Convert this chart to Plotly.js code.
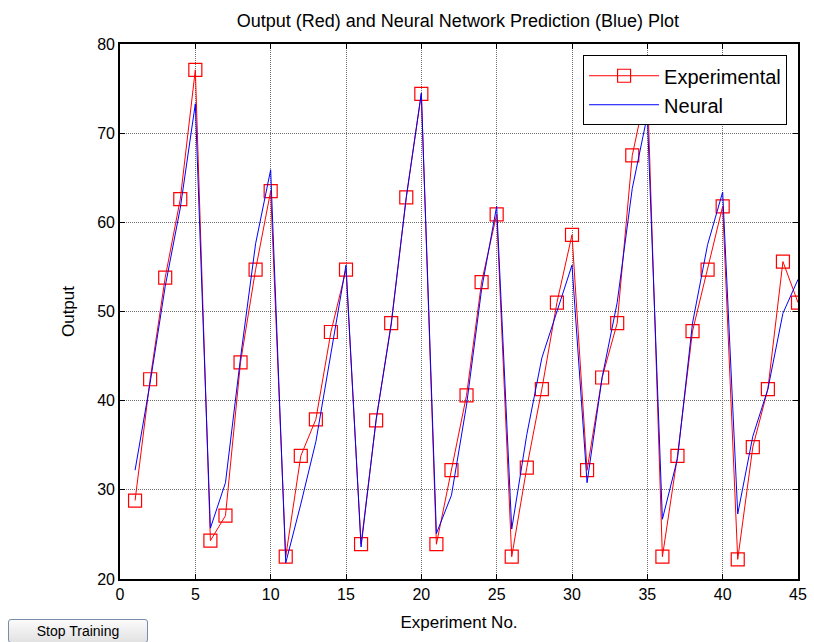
<!DOCTYPE html>
<html>
<head>
<meta charset="utf-8">
<script src="https://cdn.plot.ly/plotly-3.0.1.min.js"></script>
<style>
html,body{margin:0;padding:0;background:#fff;}
#wrap{position:relative;width:814px;height:642px;overflow:hidden;}
#chart{width:814px;height:642px;}
#btn{position:absolute;left:8px;top:619px;width:140px;height:24px;font-family:"Liberation Sans",Arial,sans-serif;font-size:14px;color:#000;
background:linear-gradient(#fbfbfb,#e2e2e2);border:1px solid #7a8da8;border-radius:3px;padding:0;box-sizing:border-box;}
</style>
</head>
<body>
<div id="wrap">
<div id="chart"></div>
<button id="btn">Stop Training</button>
</div>
<script>
const experimentNo = Array.from({length:45},(_,i)=>i+1);
const experimental = [28.8, 42.4, 53.8, 62.6, 77.1, 24.3, 27.1, 44.3, 54.7, 63.5,
  22.5, 33.8, 37.9, 47.7, 54.7, 23.9, 37.8, 48.7, 62.8, 74.4,
  23.9, 32.2, 40.6, 53.3, 60.9, 22.5, 32.5, 41.3, 51.0, 58.6,
  32.2, 42.6, 48.7, 67.5, 75.5, 22.5, 33.8, 47.8, 54.7, 61.8,
  22.2, 34.8, 41.3, 55.6, 51.0];
const neural = [32.2, 42.0, 52.8, 61.6, 73.3, 25.7, 30.8, 44.8, 57.6, 65.9,
  21.8, 28.4, 35.4, 45.5, 55.2, 23.6, 37.9, 48.5, 62.8, 74.5,
  25.1, 29.4, 39.5, 52.5, 61.8, 25.6, 36.2, 44.8, 50.0, 55.2,
  30.8, 42.6, 51.0, 63.8, 72.0, 26.7, 33.5, 48.7, 57.5, 63.4,
  27.3, 36.0, 41.3, 49.8, 53.6];
const xTicks = [0,5,10,15,20,25,30,35,40,45];
const yTicks = [20,30,40,50,60,70,80];

const font = '"Liberation Sans", Arial, Helvetica, sans-serif';
const traces = [
  {x: experimentNo, y: experimental, name: 'Experimental', type: 'scatter', mode: 'lines+markers',
   line: {color: '#ff0000', width: 1},
   marker: {symbol: 'square-open', size: 13, color: '#ff0000', line: {width: 1.2}}},
  {x: experimentNo, y: neural, name: 'Neural', type: 'scatter', mode: 'lines',
   line: {color: '#0000ff', width: 1}}
];
const axisCommon = {
  showline: true, linecolor: '#000', linewidth: 1.8, mirror: 'ticks',
  ticks: 'inside', ticklen: 5, tickcolor: '#000', tickwidth: 1,
  showgrid: true, gridcolor: '#707070', griddash: '1px,1px', gridwidth: 1,
  zeroline: false, tickfont: {family: font, size: 16, color: '#000'}
};
const layout = {
  width: 814, height: 642,
  margin: {l: 120, r: 16, t: 44, b: 63},
  paper_bgcolor: '#fff', plot_bgcolor: '#fff',
  title: {text: 'Output (Red) and Neural Network Prediction (Blue) Plot', font: {family: font, size: 18, color: '#000'},
          x: 0.5625, xanchor: 'center', y: 0.968, yanchor: 'middle'},
  xaxis: Object.assign({}, axisCommon, {range: [0, 45], tickvals: xTicks, ticktext: xTicks.map(String),
          title: {text: 'Experiment No.', font: {family: font, size: 17, color: '#000'}, standoff: 14}}),
  yaxis: Object.assign({}, axisCommon, {range: [20, 80], tickvals: yTicks, ticktext: yTicks.map(String),
          title: {text: 'Output', font: {family: font, size: 17, color: '#000'}, standoff: 18}}),
  showlegend: true,
  legend: {x: 0.683, y: 0.979, xanchor: 'left', yanchor: 'top', bgcolor: '#fff', bordercolor: '#000', borderwidth: 1,
           font: {family: font, size: 20, color: '#000'}, tracegroupgap: 0, itemwidth: 70}
};
Plotly.newPlot('chart', traces, layout, {displayModeBar: false, staticPlot: true});
</script>
</body>
</html>
